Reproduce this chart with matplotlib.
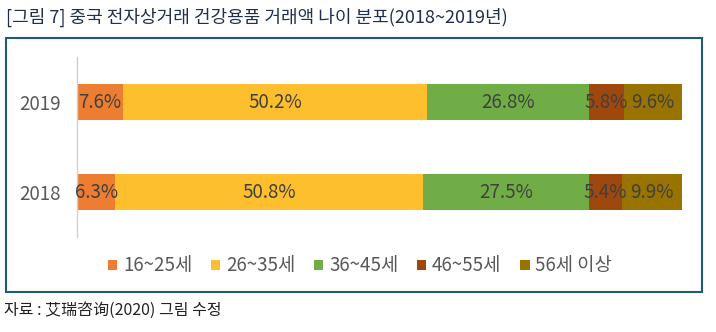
import matplotlib
matplotlib.use("Agg")
import matplotlib.pyplot as plt
from matplotlib.patches import Rectangle
import numpy as np

plt.rcParams['font.family'] = ['Noto Sans CJK KR', 'Noto Sans CJK SC', 'DejaVu Sans']

years = ["2018", "2019"]
groups = ["16~25세", "26~35세", "36~45세", "46~55세", "56세 이상"]
values_2018 = [6.3, 50.8, 27.5, 5.4, 9.9]
values_2019 = [7.6, 50.2, 26.8, 5.8, 9.6]
colors = ["#ED7D31", "#FDBF2D", "#70AD47", "#9E480E", "#997300"]

title = "[그림 7] 중국 전자상거래 건강용품 거래액 나이 분포(2018~2019년)"
source = "자료 : 艾瑞咨询(2020) 그림 수정"

data = np.array([values_2018, values_2019])
totals = data.sum(axis=1, keepdims=True)
norm = data / totals * 100

fig = plt.figure(figsize=(7.16, 3.32), dpi=100)
ax = fig.add_axes([77/716, 1-237/332, (682-77)/716, 180/332])

y = np.arange(len(years))
left = np.zeros(len(years))
for i, g in enumerate(groups):
    ax.barh(y, norm[:, i], left=left, height=0.4, color=colors[i], label=g)
    for j in range(len(years)):
        ax.text(left[j] + norm[j, i]/2, y[j], f"{data[j, i]:.1f}%",
                ha='center', va='center', fontsize=13.5, color='#404040')
    left += norm[:, i]

ax.set_xlim(0, 100)
ax.set_ylim(-0.5, 1.5)
ax.set_yticks(y)
ax.set_yticklabels(years, fontsize=13.5, color='#595959')
ax.set_xticks([])
ax.tick_params(axis='y', length=0, pad=12)
for s in ['top', 'right', 'bottom']:
    ax.spines[s].set_visible(False)
ax.spines['left'].set_color('#d0d0d0')
ax.spines['left'].set_linewidth(1)

leg = fig.legend(loc='center', bbox_to_anchor=(360/716, 1-266/332), ncol=5,
                 frameon=False, fontsize=13.5, handlelength=0.5, handleheight=0.5,
                 handletextpad=0.3, columnspacing=1.0)
for t in leg.get_texts():
    t.set_color('#595959')

fig.patches.append(Rectangle((6/716, 1-292/332), (702-6)/716, (292-38)/332,
                             transform=fig.transFigure, fill=False,
                             edgecolor='#1f5c73', linewidth=1.5))

fig.text(6/716, 1-17/332, title, ha='left', va='center', fontsize=13, color='#1f2f4f')
fig.text(4/716, 1-310/332, source, ha='left', va='center', fontsize=11.5, color='#222222')

fig.savefig("out.png", dpi=100)
